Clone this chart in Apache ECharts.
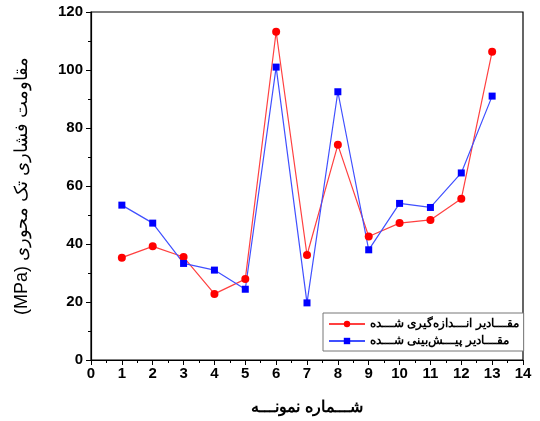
<!DOCTYPE html>
<html><head><meta charset="utf-8">
<script src="https://cdn.jsdelivr.net/npm/echarts@6/dist/echarts.min.js"></script>
<style>html,body{margin:0;padding:0;background:#fff}#c{width:540px;height:421px}</style>
</head><body><div id="c"></div>
<script>
const samples = [1,2,3,4,5,6,7,8,9,10,11,12,13];
const measured = [35.3,39.2,35.5,22.8,27.9,113.2,36.2,74.2,42.6,47.2,48.3,55.6,106.3];
const predicted = [53.4,47.2,33.3,31.0,24.4,101.0,19.7,92.5,38.0,54.0,52.6,64.5,91.0];
const seriesNames = ['مقـــادیر انـــدازه‌گیری شـــده','مقـــادیر پیـــش‌بینی شـــده'];
const xName = 'شـــماره نمونـــه';
const yName = '(MPa) مقاومت فشاری تک محوری';

const font = 'Liberation Sans, Arial, sans-serif';
const chart = echarts.init(document.getElementById('c'));
chart.setOption({
  animation:false,
  grid:{left:91,right:17,top:12,bottom:60,show:true,borderColor:'#000',borderWidth:1.2,backgroundColor:'transparent'},
  legend:{
    data:seriesNames,orient:'vertical',left:323,top:313,itemGap:5,
    itemWidth:36,itemHeight:8,
    borderColor:'#777',borderWidth:1,padding:[5,5,4,5],backgroundColor:'#fff',
    textStyle:{fontFamily:font,fontSize:12,fontWeight:'bold',color:'#000'}
  },
  xAxis:{
    type:'value',min:0,max:14,interval:1,
    name:xName,nameLocation:'middle',nameGap:40,
    nameTextStyle:{fontFamily:font,fontSize:16,fontWeight:'bold',color:'#000'},
    axisLine:{lineStyle:{color:'#000',width:1.2}},
    axisTick:{inside:false,length:5,lineStyle:{color:'#000'}},
    minorTick:{show:true,splitNumber:2,length:3,lineStyle:{color:'#000'}},
    axisLabel:{fontFamily:font,fontSize:15,fontWeight:'bold',color:'#000',margin:6},
    splitLine:{show:false}
  },
  yAxis:{
    type:'value',min:0,max:120,interval:20,
    name:yName,nameLocation:'middle',nameGap:60,
    nameTextStyle:{fontFamily:font,fontSize:18,fontWeight:'normal',color:'#000'},
    axisLine:{show:true,lineStyle:{color:'#000',width:1.2}},
    axisTick:{show:true,inside:false,length:5,lineStyle:{color:'#000'}},
    minorTick:{show:true,splitNumber:2,length:3,lineStyle:{color:'#000'}},
    axisLabel:{fontFamily:font,fontSize:15,fontWeight:'bold',color:'#000',margin:8},
    splitLine:{show:false}
  },
  series:[
    {name:seriesNames[0],type:'line',data:samples.map((s,i)=>[s,measured[i]]),
     symbol:'circle',symbolSize:8,itemStyle:{color:'#ff0000'},lineStyle:{color:'#ff4040',width:1.2}},
    {name:seriesNames[1],type:'line',data:samples.map((s,i)=>[s,predicted[i]]),
     symbol:'rect',symbolSize:7,itemStyle:{color:'#0000ff'},lineStyle:{color:'#4050ff',width:1.2}}
  ]
});
</script></body></html>
